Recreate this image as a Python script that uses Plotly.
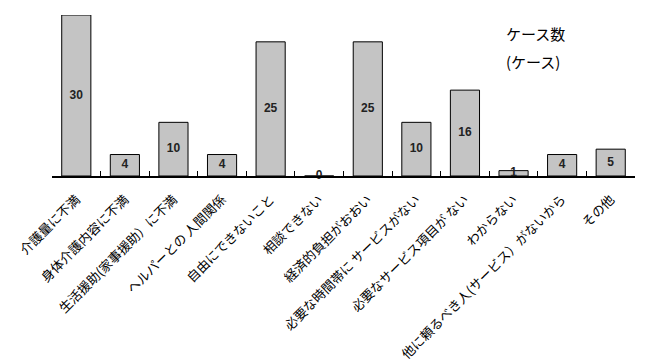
import plotly.graph_objects as go

categories = [
    "介護量に不満",
    "身体介護内容に不満",
    "生活援助(家事援助）に不満",
    "ヘルパーとの 人間関係",
    "自由にできないこと",
    "相談できない",
    "経済的負担がおおい",
    "必要な時間帯に サービスがない",
    "必要なサービス項目が ない",
    "わからない",
    "他に頼るべき人(サービス）がないから",
    "その他",
]
values = [30, 4, 10, 4, 25, 0, 25, 10, 16, 1, 4, 5]
legend_lines = ["ケース数", "(ケース)"]

OFF = 8  # page body margin
W, H = 646, 364
L, T = 52 - OFF, 15 - OFF
R = W - (635 - OFF)
B = H - (176 - OFF)
pw = W - L - R
ph = H - T - B

fig = go.Figure()
fig.add_trace(go.Bar(
    x=categories, y=values,
    marker=dict(color="#c4c4c4", line=dict(color="#000000", width=1)),
    width=0.6,
    hoverinfo="skip",
    showlegend=False,
))
fig.add_trace(go.Scatter(
    x=categories, y=[v / 2 for v in values],
    text=[str(v) for v in values],
    mode="text",
    textfont=dict(family="Liberation Sans", size=12, color="#222222", weight="bold"),
    textposition="middle center",
    cliponaxis=False,
    showlegend=False,
    hoverinfo="skip",
))

anns = []
for txt, px, py in [(legend_lines[0], 535, 33), (legend_lines[1], 533, 61)]:
    anns.append(dict(text=txt, x=(px - OFF - L) / pw, y=1 - (py - OFF - T) / ph,
                     xref="paper", yref="paper", showarrow=False,
                     xanchor="center", yanchor="middle",
                     font=dict(family="Noto Sans CJK JP", size=15, color="black")))

fig.update_layout(
    width=W, height=H,
    margin=dict(l=L, r=R, t=T, b=B),
    paper_bgcolor="white", plot_bgcolor="white",
    xaxis=dict(
        range=[-0.5, len(categories) - 0.5],
        showline=True, linecolor="black", linewidth=1.5,
        ticks="inside", ticklen=5, tickcolor="black", tickson="boundaries",
        tickangle=-45, automargin=False, ticklabelstandoff=9,
        tickfont=dict(family="Noto Sans CJK JP", size=13, color="black"),
        showgrid=False,
    ),
    yaxis=dict(range=[0, 30], visible=False, showgrid=False, automargin=False),
    annotations=anns,
)

fig.write_html("out.html")
